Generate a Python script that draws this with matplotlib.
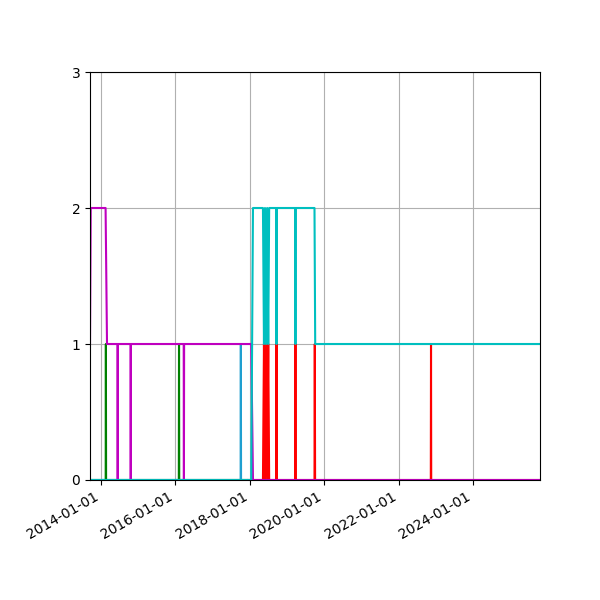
import matplotlib

matplotlib.use("Agg")
import matplotlib.pyplot as plt
import matplotlib.dates as mdates
import numpy as np

# ---- data ----
START = "2013-09-15"
END = "2025-10-20"

# magenta: level series
mag_dates = ["2013-09-15", "2013-09-22", "2014-02-15", "2014-03-01",
             "2014-06-12", "2014-06-14", "2014-06-16",
             "2014-10-18", "2014-10-20", "2014-10-22",
             "2016-03-23", "2016-03-25", "2016-03-27",
             "2018-01-15", "2018-02-01", END]
mag_vals = [1, 2, 2, 1,
            1, 0, 1,
            1, 0, 1,
            1, 0, 1,
            1, 0, 0]

# green spikes 0 -> 1
green_dates = [START, "2014-02-16", "2014-02-18", "2014-02-20",
               "2016-02-04", "2016-02-06", "2016-02-08", "2017-12-01"]
green_vals = [0, 0, 1, 0, 0, 1, 0, 0]

# blue spike
blue_dates = [START, "2017-10-03", "2017-10-05", "2017-10-07", "2018-01-01"]
blue_vals = [0, 0, 1, 0, 0]

# cyan
cyan_dates = [START, "2018-01-15", "2018-02-01",
              "2018-05-10", "2018-05-20", "2018-05-30", "2018-06-10", "2018-06-20",
              "2018-07-01", "2018-07-10", "2018-07-20",
              "2018-09-18", "2018-09-20", "2018-09-22",
              "2019-03-23", "2019-03-25", "2019-03-27",
              "2019-09-28", "2019-10-05", END]
cyan_vals = [0, 0, 2,
             2, 1, 2, 1, 2,
             1, 2, 2,
             2, 1, 2,
             2, 1, 2,
             2, 1, 1]

# red
red_dates = ["2017-12-15", "2018-05-10", "2018-05-20", "2018-05-30", "2018-06-10",
             "2018-06-20", "2018-07-01", "2018-07-10", "2018-07-20",
             "2018-09-18", "2018-09-20", "2018-09-22",
             "2019-03-23", "2019-03-25", "2019-03-27",
             "2019-09-28", "2019-10-01", "2019-10-04",
             "2022-11-13", "2022-11-15", "2022-11-17", END]
red_vals = [0, 0, 1, 0, 1,
            0, 1, 0, 0,
            0, 1, 0,
            0, 1, 0,
            0, 1, 0,
            0, 1, 0, 0]


def d(lst):
    return np.array(lst, dtype="datetime64[D]")


fig, ax = plt.subplots(figsize=(6, 6), dpi=100)
ax.plot(d(green_dates), green_vals, color="g")
ax.plot(d(blue_dates), blue_vals, color="#1f9fd0")
ax.plot(d(red_dates), red_vals, color="r")
ax.plot(d(mag_dates), mag_vals, color="m")
ax.plot(d(cyan_dates), cyan_vals, color="c")

ax.set_xlim(d([START])[0], d([END])[0])
ax.set_ylim(0, 3)
ax.set_yticks([0, 1, 2, 3])
ax.xaxis.set_major_locator(mdates.YearLocator(2))
ax.xaxis.set_major_formatter(mdates.DateFormatter("%Y-%m-%d"))
ax.grid(True)
ax.set_box_aspect(None)
fig.subplots_adjust(left=0.15, right=0.9, top=0.88, bottom=0.2)
fig.autofmt_xdate()
fig.savefig("out.png")
